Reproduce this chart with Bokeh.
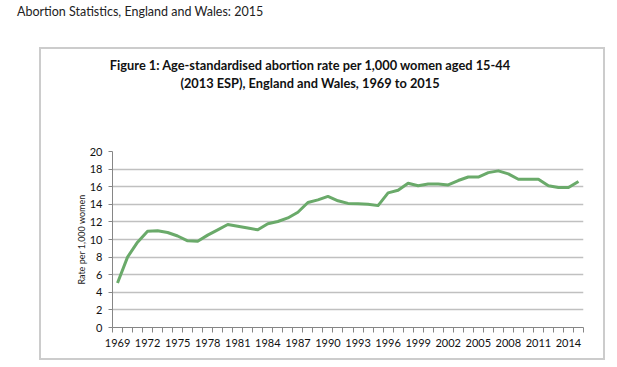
from bokeh.plotting import figure
from bokeh.models import FixedTicker, Range1d, Div
from bokeh.layouts import column
from bokeh.embed import file_html
from bokeh.resources import INLINE

years = list(range(1969, 2016))
rates = [5.05, 8.0, 9.7, 10.95, 11.0, 10.8, 10.4, 9.85, 9.8, 10.5,
         11.1, 11.7, 11.5, 11.3, 11.1, 11.8, 12.05, 12.45, 13.1, 14.2,
         14.5, 14.9, 14.4, 14.1, 14.05, 14.0, 13.85, 15.3, 15.6, 16.4,
         16.1, 16.3, 16.3, 16.2, 16.7, 17.1, 17.1, 17.6, 17.8, 17.45,
         16.85, 16.85, 16.85, 16.1, 15.9, 15.9, 16.6]
y_ticks = list(range(0, 21, 2))
x_label_years = list(range(1969, 2016, 3))

header = "Abortion Statistics, England and Wales: 2015"
title1 = "Figure 1: Age-standardised abortion rate per 1,000 women aged 15-44"
title2 = "(2013 ESP), England and Wales, 1969 to 2015"
ylabel = "Rate per 1,000 women"

FONT = "Lato"

header_div = Div(
    text=f'<div style="font-family:{FONT};font-size:12.5px;line-height:16px;color:#222;white-space:nowrap">{header}</div>',
    width=590, height=43, margin=(4, 0, 0, 17))

title_div = Div(
    text=(f'<div style="font-family:{FONT};font-size:12.8px;line-height:18px;font-weight:bold;'
          f'color:#111;text-align:center;width:538px;padding-top:7px;white-space:nowrap">'
          f'{title1}<br>{title2}</div>'),
    width=562, height=55, margin=(0, 0, 0, 0))

p = figure(width=562, height=254, output_backend="svg", toolbar_location=None,
           x_range=Range1d(years[0] - 0.5, years[-1] + 0.5), y_range=Range1d(0, 20),
           min_border_left=71, min_border_right=20, min_border_top=47, min_border_bottom=31,
           margin=(0, 0, 0, 0))
p.outline_line_color = None
p.background_fill_color = "white"
p.border_fill_color = "white"

p.line(years, rates, line_color="#6aaa6a", line_width=3, line_join="round")

# x axis
minor = [y - 0.5 for y in years] + [years[-1] + 0.5]
p.xaxis.ticker = FixedTicker(ticks=x_label_years, minor_ticks=minor)
p.xaxis.major_tick_out = 0
p.xaxis.major_tick_in = 0
p.xaxis.minor_tick_out = 5
p.xaxis.minor_tick_in = 0
p.xaxis.minor_tick_line_color = "#868686"
p.xaxis.axis_line_color = "#868686"
p.xaxis.major_label_text_font = FONT
p.xaxis.major_label_text_font_size = "11px"
p.xaxis.major_label_text_color = "#111111"
p.xaxis.major_label_standoff = 6
p.xgrid.grid_line_color = None

# y axis
p.yaxis.ticker = FixedTicker(ticks=y_ticks)
p.yaxis.major_tick_out = 4
p.yaxis.major_tick_in = 0
p.yaxis.minor_tick_line_color = None
p.yaxis.axis_line_color = "#868686"
p.yaxis.major_tick_line_color = "#868686"
p.yaxis.major_label_text_font = FONT
p.yaxis.major_label_text_font_size = "11px"
p.yaxis.major_label_text_color = "#111111"
p.yaxis.major_label_standoff = 6
p.yaxis.axis_label = ylabel
p.yaxis.axis_label_text_font = FONT
p.yaxis.axis_label_text_font_size = "9px"
p.yaxis.axis_label_text_font_style = "normal"
p.yaxis.axis_label_text_color = "#222222"
p.yaxis.axis_label_standoff = 0
p.ygrid.grid_line_color = "#c0c0c0"
p.ygrid.grid_line_width = 1.5

box = column(title_div, p, margin=(0, 0, 0, 39), spacing=0,
             styles={"border": "2px solid #cccccc"})
root = column(header_div, box, margin=(0, 0, 0, 0), spacing=0)

open("out.html", "w").write(file_html(root, INLINE))
